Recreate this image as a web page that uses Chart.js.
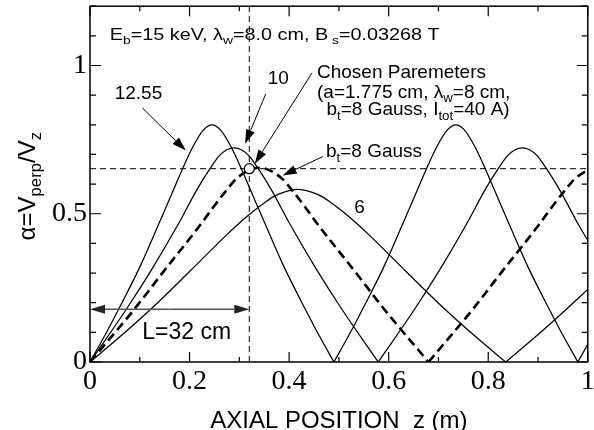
<!DOCTYPE html>
<html>
<head>
<meta charset="utf-8">
<script src="https://cdn.jsdelivr.net/npm/chart.js@4.4.1/dist/chart.umd.min.js"></script>
<style>
  html, body { margin: 0; padding: 0; background: #fff; }
  #wrap { width: 594px; height: 430px; }
</style>
</head>
<body>
<div id="wrap"><canvas id="alphaChart" width="594" height="430"></canvas></div>
<script>
// alpha = Vperp/Vz along the axis for several transverse fields bt (Gauss)
const z1255 = [0, 0.03, 0.0575, 0.1, 0.137, 0.165, 0.186, 0.208, 0.228, 0.245,
  0.262, 0.282, 0.304, 0.325, 0.353, 0.39, 0.4325, 0.46, 0.49,
  0.52, 0.5475, 0.59, 0.627, 0.655, 0.676, 0.698, 0.718, 0.735,
  0.752, 0.772, 0.794, 0.815, 0.843, 0.88, 0.9225, 0.95, 0.98, 1.0];
const a1255 = [0, 0.09, 0.178, 0.32, 0.461, 0.57, 0.652, 0.73, 0.783, 0.80,
  0.783, 0.73, 0.652, 0.57, 0.461, 0.32, 0.178, 0.09, 0,
  0.09, 0.178, 0.32, 0.461, 0.57, 0.652, 0.73, 0.783, 0.80,
  0.783, 0.73, 0.652, 0.57, 0.461, 0.32, 0.178, 0.09, 0, 0.06];

const z10 = [0, 0.073, 0.125, 0.176, 0.214, 0.241, 0.26, 0.275, 0.2895,
  0.304, 0.319, 0.338, 0.365, 0.403, 0.454, 0.506, 0.579,
  0.652, 0.704, 0.755, 0.793, 0.82, 0.839, 0.854, 0.8685,
  0.883, 0.898, 0.917, 0.944, 0.982, 1.0];
const a10 = [0, 0.178, 0.315, 0.461, 0.579, 0.652, 0.696, 0.716, 0.722,
  0.716, 0.696, 0.652, 0.579, 0.461, 0.315, 0.178, 0,
  0.178, 0.315, 0.461, 0.579, 0.652, 0.696, 0.716, 0.722,
  0.716, 0.696, 0.652, 0.579, 0.461, 0.41];

const z8 = [0, 0.089, 0.15, 0.221, 0.248, 0.274, 0.294, 0.321, 0.34,
  0.359, 0.386, 0.406, 0.432, 0.459, 0.53, 0.591, 0.68,
  0.769, 0.83, 0.901, 0.928, 0.954, 0.974, 1.0];
const a8 = [0, 0.178, 0.31, 0.461, 0.523, 0.579, 0.618, 0.648, 0.655,
  0.648, 0.618, 0.579, 0.523, 0.461, 0.31, 0.178, 0,
  0.178, 0.31, 0.461, 0.523, 0.579, 0.618, 0.648];

const z6 = [0, 0.06, 0.122, 0.2, 0.274, 0.314, 0.345, 0.367, 0.39, 0.4175,
  0.445, 0.468, 0.49, 0.521, 0.561, 0.635, 0.713, 0.775, 0.835,
  0.895, 0.957, 1.0];
const a6 = [0, 0.085, 0.178, 0.305, 0.428, 0.489, 0.53, 0.556, 0.573, 0.582,
  0.573, 0.556, 0.53, 0.489, 0.428, 0.305, 0.178, 0.085, 0,
  0.085, 0.178, 0.245];

// chosen design point: L = 32 cm, alpha = 0.652
const chosenZ = [0.32];
const chosenAlpha = [0.652];

const xTicks = [0, 0.2, 0.4, 0.6, 0.8, 1];
const yTicks = [0, 0.5, 1];

const SANS = '"Liberation Sans", Arial, Helvetica, sans-serif';
const SERIF = '"Liberation Serif", "Times New Roman", serif';

// each zero of alpha is a cusp, so break the line there
function toPoints(zs, as) {
  const pts = [];
  zs.forEach((z, i) => {
    pts.push({x: z, y: as[i]});
    if (as[i] === 0 && i > 0 && i < zs.length - 1) {
      pts.push({x: z, y: null});
      pts.push({x: z, y: 0});
    }
  });
  return pts;
}

function curve(zs, as, dashed) {
  return {
    data: toPoints(zs, as),
    borderColor: '#000',
    borderWidth: dashed ? 2.6 : 1.25,
    borderDash: dashed ? [9, 5] : [],
    pointRadius: 0,
    cubicInterpolationMode: 'monotone',
    spanGaps: false,
    fill: false
  };
}

function richText(ctx, x, y, runs, size) {
  let cx = x;
  runs.forEach(([t, sub]) => {
    const s = sub ? size * 0.7 : size;
    ctx.font = s + 'px ' + SANS;
    ctx.fillText(t, cx, y + (sub ? size * 0.24 : 0));
    cx += ctx.measureText(t).width;
  });
  return cx - x;
}

function arrow(ctx, x1, y1, x2, y2, len, half) {
  const ang = Math.atan2(y2 - y1, x2 - x1);
  const bx = x2 - len * Math.cos(ang), by = y2 - len * Math.sin(ang);
  ctx.beginPath();
  ctx.moveTo(x1, y1);
  ctx.lineTo(bx, by);
  ctx.stroke();
  ctx.beginPath();
  ctx.moveTo(x2, y2);
  ctx.lineTo(bx + half * Math.sin(ang), by - half * Math.cos(ang));
  ctx.lineTo(bx - half * Math.sin(ang), by + half * Math.cos(ang));
  ctx.closePath();
  ctx.fill();
}

const notes = {
  id: 'notes',
  afterDraw(chart) {
    const {ctx, chartArea: ca, scales: {x, y}} = chart;
    const px = v => x.getPixelForValue(v);
    const py = v => y.getPixelForValue(v);
    ctx.save();

    // frame with inward ticks on all sides
    ctx.strokeStyle = '#000';
    ctx.lineWidth = 1.5;
    ctx.strokeRect(ca.left, ca.top, ca.right - ca.left, ca.bottom - ca.top);
    ctx.lineWidth = 1.2;
    ctx.beginPath();
    for (let i = 0; i <= 10; i++) {
      const X = px(i / 10), len = i % 2 ? 5 : 10;
      ctx.moveTo(X, ca.bottom); ctx.lineTo(X, ca.bottom - len);
      ctx.moveTo(X, ca.top); ctx.lineTo(X, ca.top + len);
    }
    for (let i = 0; i <= 12; i++) {
      const Y = py(i / 10), len = i % 5 ? 6 : 11;
      ctx.moveTo(ca.left, Y); ctx.lineTo(ca.left + len, Y);
      ctx.moveTo(ca.right, Y); ctx.lineTo(ca.right - len, Y);
    }
    ctx.stroke();

    // y-axis title
    ctx.fillStyle = '#000';
    ctx.textBaseline = 'alphabetic';
    ctx.save();
    ctx.translate(35, (ca.top + ca.bottom) / 2 + 2);
    ctx.rotate(-Math.PI / 2);
    const yTitle = [['\u03b1=V', 0], ['perp', 1], ['/V', 0], ['z', 1]];
    ctx.globalAlpha = 0;
    const w = richText(ctx, 0, 0, yTitle, 24);
    ctx.globalAlpha = 1;
    richText(ctx, -w / 2, 0, yTitle, 24);
    ctx.restore();

    // beam parameters
    ctx.save();
    ctx.translate(px(0.0397), py(1.085));
    ctx.scale(1.2, 1);
    richText(ctx, 0, 0, [['E', 0], ['b', 1], ['=15 keV, \u03bb', 0], ['w', 1],
      ['=8.0 cm, B', 0], [' s', 1], ['=0.03268 T', 0]], 16.5);
    ctx.restore();

    // curve labels
    richText(ctx, px(0.0496), py(0.888), [['12.55', 0]], 19);
    richText(ctx, px(0.357), py(0.938), [['10', 0]], 19);
    richText(ctx, px(0.531), py(0.502), [['6', 0]], 19);
    richText(ctx, px(0.474), py(0.69), [['b', 0], ['t', 1], ['=8 Gauss', 0]], 19);
    richText(ctx, px(0.456), py(0.958), [['Chosen Paremeters', 0]], 19);
    richText(ctx, px(0.456), py(0.891), [['(a=1.775 cm, \u03bb', 0], ['w', 1], ['=8 cm,', 0]], 19);
    richText(ctx, px(0.475), py(0.833), [['b', 0], ['t', 1], ['=8 Gauss, I', 0], ['tot', 1], ['=40 A)', 0]], 19);
    richText(ctx, px(0.105), py(0.076), [['L=32 cm', 0]], 23);

    // pointer arrows
    ctx.strokeStyle = '#000';
    ctx.lineWidth = 1;
    arrow(ctx, px(0.105), py(0.857), px(0.1925), py(0.713), 14, 4.5);
    arrow(ctx, px(0.353), py(0.904), px(0.3115), py(0.736), 14, 4.5);
    arrow(ctx, px(0.446), py(0.975), px(0.331), py(0.669), 14, 4.5);
    arrow(ctx, px(0.468), py(0.693), px(0.387), py(0.629), 14, 4.5);

    // length of the entrance section
    ctx.strokeStyle = '#555';
    ctx.fillStyle = '#222';
    ctx.lineWidth = 1.6;
    const yL = py(0.178), mid = (px(0) + px(chosenZ[0])) / 2;
    arrow(ctx, mid, yL, px(0), yL, 15, 4.5);
    arrow(ctx, mid, yL, px(chosenZ[0]), yL, 15, 4.5);
    ctx.restore();
  }
};

const datasets = [
  {
    data: [{x: chosenZ[0], y: chosenAlpha[0]}],
    showLine: false,
    pointRadius: 5,
    pointBackgroundColor: '#fff',
    pointBorderColor: '#000',
    pointBorderWidth: 1.2
  },
  {
    data: [{x: 0, y: chosenAlpha[0]}, {x: 1, y: chosenAlpha[0]}],
    borderColor: '#000', borderWidth: 1, borderDash: [6, 4], pointRadius: 0
  },
  {
    data: [{x: chosenZ[0], y: 0}, {x: chosenZ[0], y: 1.2}],
    borderColor: '#000', borderWidth: 1, borderDash: [6, 4], pointRadius: 0
  },
  curve(z1255, a1255, false),
  curve(z10, a10, false),
  curve(z8, a8, true),
  curve(z6, a6, false)
];

new Chart(document.getElementById('alphaChart').getContext('2d'), {
  type: 'line',
  data: { datasets: datasets },
  options: {
    responsive: false,
    animation: false,
    devicePixelRatio: 1,
    layout: { padding: { top: 4, right: 1, left: 0, bottom: 0 } },
    plugins: {
      legend: { display: false },
      tooltip: { enabled: false }
    },
    scales: {
      x: {
        type: 'linear',
        min: 0,
        max: 1,
        afterBuildTicks: s => { s.ticks = xTicks.map(v => ({ value: v })); },
        afterFit: s => { s.height = 68; s.paddingLeft = 0; s.paddingRight = 0; },
        ticks: {
          autoSkip: false,
          maxRotation: 0,
          padding: 3,
          color: '#000',
          font: { family: SERIF, size: 28 },
          callback: v => String(v)
        },
        grid: { display: false, drawTicks: false },
        border: { display: false },
        title: {
          display: true,
          text: 'AXIAL POSITION  z (m)',
          color: '#000',
          font: { family: SANS, size: 24, lineHeight: 0.7 },
          padding: 0
        }
      },
      y: {
        type: 'linear',
        min: 0,
        max: 1.2,
        afterBuildTicks: s => { s.ticks = yTicks.map(v => ({ value: v })); },
        afterFit: s => { s.width = 90; s.paddingTop = 0; s.paddingBottom = 0; },
        ticks: {
          padding: 3,
          color: '#000',
          font: { family: SERIF, size: 28 },
          callback: v => String(v)
        },
        grid: { display: false, drawTicks: false },
        border: { display: false }
      }
    }
  },
  plugins: [notes]
});
</script>
</body>
</html>
